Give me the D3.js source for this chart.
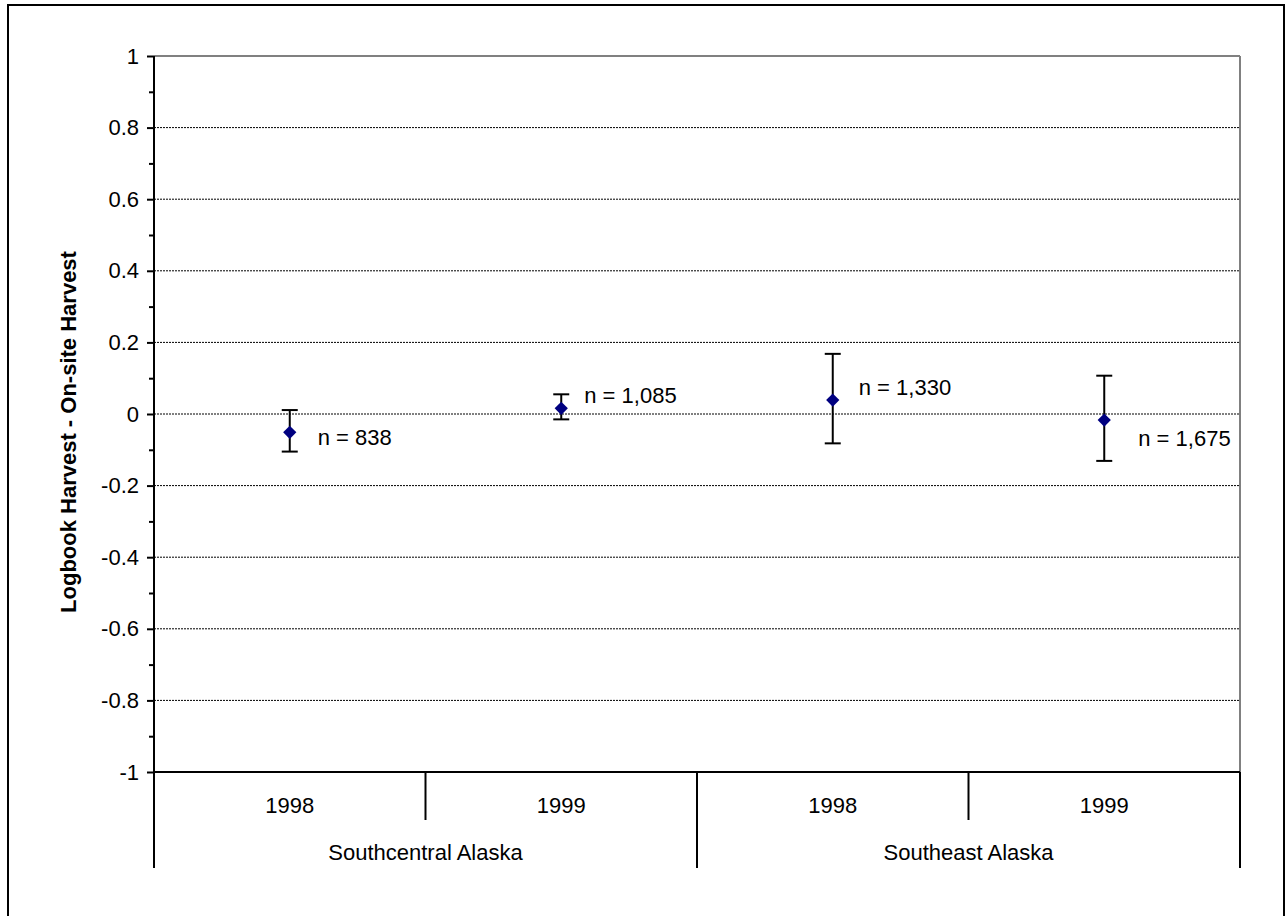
<!DOCTYPE html>
<html>
<head>
<meta charset="utf-8">
<script src="https://cdn.jsdelivr.net/npm/d3@7"></script>
<style>
  html, body { margin: 0; padding: 0; background: #fff; }
  svg { display: block; }
  text { font-family: "Liberation Sans", Arial, Helvetica, sans-serif; }
</style>
</head>
<body>
<svg id="chart" width="1285" height="916"></svg>
<script>
// ---- data ----
const groups = ["Southcentral Alaska", "Southeast Alaska"];
const years = ["1998", "1999", "1998", "1999"];
const groupOf = [0, 0, 1, 1];
const means = [-0.051, 0.016, 0.039, -0.017];
const upper = [0.011, 0.055, 0.168, 0.107];
const lower = [-0.105, -0.015, -0.082, -0.131];
const nLabels = ["n = 838", "n = 1,085", "n = 1,330", "n = 1,675"];
const yTicks = [1, 0.8, 0.6, 0.4, 0.2, 0, -0.2, -0.4, -0.6, -0.8, -1];
const yTickLabels = ["1", "0.8", "0.6", "0.4", "0.2", "0", "-0.2", "-0.4", "-0.6", "-0.8", "-1"];
const yMinorTicks = [0.9, 0.7, 0.5, 0.3, 0.1, -0.1, -0.3, -0.5, -0.7, -0.9];
const yTitle = "Logbook Harvest - On-site Harvest";

// ---- layout (styling only) ----
const labelOffsets = [[28, 13], [23, -5], [26, -5], [34, 26]];
const pLeft = 154, pRight = 1240, pTop = 56, pBottom = 772;
const fontSize = 22;

const svg = d3.select("#chart");
const keys = years.map((yv, i) => i);

const x = d3.scaleBand().domain(keys).range([pLeft, pRight]).padding(0);
const y = d3.scaleLinear().domain([-1, 1]).range([pBottom, pTop]);

// outer frame
svg.append("rect")
  .attr("x", 8).attr("y", 5).attr("width", 1276).attr("height", 930)
  .attr("fill", "none").attr("stroke", "#000").attr("stroke-width", 2);

// gridlines
svg.append("g").selectAll("line")
  .data(yTicks.filter(v => v !== 1 && v !== -1))
  .join("line")
  .attr("x1", pLeft).attr("x2", pRight)
  .attr("y1", d => y(d)).attr("y2", d => y(d))
  .attr("stroke", "#000").attr("stroke-width", 1)
  .attr("stroke-dasharray", "2,1");

// plot area top/right border (grey)
svg.append("line").attr("x1", pLeft).attr("x2", pRight).attr("y1", y(1)).attr("y2", y(1))
  .attr("stroke", "#808080").attr("stroke-width", 2);
svg.append("line").attr("x1", pRight).attr("x2", pRight).attr("y1", y(1)).attr("y2", y(-1))
  .attr("stroke", "#808080").attr("stroke-width", 2);

// y axis major
const yAxis = d3.axisLeft(y).tickValues(yTicks)
  .tickFormat((d, i) => yTickLabels[i]).tickSize(7).tickPadding(8);
const gy = svg.append("g").attr("transform", `translate(${pLeft},0)`).call(yAxis);
gy.select(".domain").remove();
gy.selectAll(".tick line").attr("stroke", "#000").attr("stroke-width", 2);
gy.selectAll(".tick text").attr("font-size", fontSize).attr("fill", "#000")
  .style("font-family", '"Liberation Sans", Arial, sans-serif');

// y minor ticks
const yMinor = d3.axisLeft(y).tickValues(yMinorTicks).tickFormat("").tickSize(5);
const gym = svg.append("g").attr("transform", `translate(${pLeft},0)`).call(yMinor);
gym.select(".domain").remove();
gym.selectAll(".tick line").attr("stroke", "#000").attr("stroke-width", 2);

// y axis line
svg.append("line").attr("x1", pLeft).attr("x2", pLeft).attr("y1", y(1)).attr("y2", pBottom + 96)
  .attr("stroke", "#000").attr("stroke-width", 2);

// x axis line
svg.append("line").attr("x1", pLeft).attr("x2", pRight).attr("y1", pBottom).attr("y2", pBottom)
  .attr("stroke", "#000").attr("stroke-width", 2);

// category separators
keys.forEach((k, i) => {
  if (i === 0) return;
  const xs = x(k);
  const isGroupBoundary = groupOf[i] !== groupOf[i - 1];
  svg.append("line").attr("x1", xs).attr("x2", xs)
    .attr("y1", pBottom).attr("y2", pBottom + (isGroupBoundary ? 96 : 48))
    .attr("stroke", "#000").attr("stroke-width", 2);
});
svg.append("line").attr("x1", pRight).attr("x2", pRight).attr("y1", pBottom).attr("y2", pBottom + 96)
  .attr("stroke", "#000").attr("stroke-width", 2);

// category labels
svg.append("g").selectAll("text").data(keys).join("text")
  .attr("x", d => x(d) + x.bandwidth() / 2)
  .attr("y", pBottom + 41)
  .attr("text-anchor", "middle").attr("font-size", fontSize)
  .text(d => years[d]);

// group labels
groups.forEach((g, gi) => {
  const members = keys.filter(k => groupOf[k] === gi);
  const x0 = x(members[0]);
  const x1 = x(members[members.length - 1]) + x.bandwidth();
  svg.append("text").attr("x", (x0 + x1) / 2).attr("y", pBottom + 88)
    .attr("text-anchor", "middle").attr("font-size", fontSize).text(g);
});

// y title
svg.append("text")
  .attr("transform", `translate(76, ${(pTop + pBottom) / 2 + 18}) rotate(-90)`)
  .attr("text-anchor", "middle").attr("font-size", 22).attr("font-weight", "bold")
  .text(yTitle);

// error bars
const eb = svg.append("g");
keys.forEach(i => {
  const cx = x(i) + x.bandwidth() / 2;
  eb.append("line").attr("x1", cx).attr("x2", cx).attr("y1", y(upper[i])).attr("y2", y(lower[i]))
    .attr("stroke", "#000").attr("stroke-width", 2);
  [upper[i], lower[i]].forEach(v => {
    eb.append("line").attr("x1", cx - 8).attr("x2", cx + 8).attr("y1", y(v)).attr("y2", y(v))
      .attr("stroke", "#000").attr("stroke-width", 2);
  });
});

// diamonds
svg.append("g").selectAll("path").data(keys).join("path")
  .attr("d", d3.symbol().type(d3.symbolSquare).size(88))
  .attr("transform", d => `translate(${x(d) + x.bandwidth() / 2},${y(means[d])}) rotate(45)`)
  .attr("fill", "#000080");

// n labels
svg.append("g").selectAll("text").data(keys).join("text")
  .attr("x", d => x(d) + x.bandwidth() / 2 + labelOffsets[d][0])
  .attr("y", d => y(means[d]) + labelOffsets[d][1])
  .attr("font-size", fontSize)
  .text(d => nLabels[d]);
</script>
</body>
</html>
